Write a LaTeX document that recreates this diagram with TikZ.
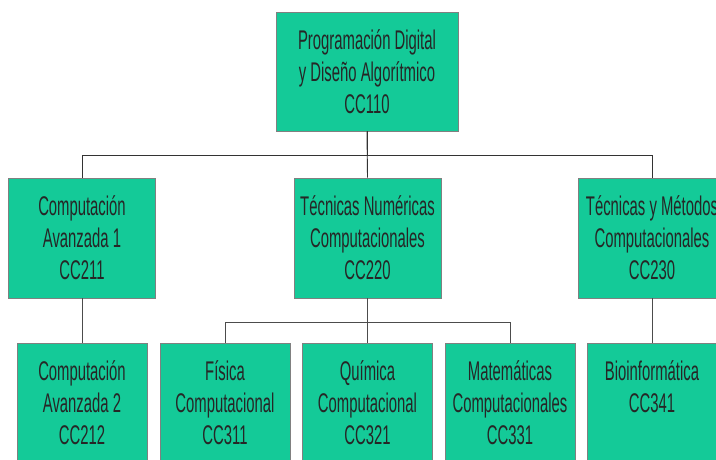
\documentclass[tikz,border=0pt]{standalone}
\usepackage{fontspec}
\usepackage{xcolor}
\usepackage{tikz}
\newfontfamily\coursefont{Liberation Sans}[FakeStretch=0.55]
\definecolor{coursegreen}{RGB}{20,202,152}

\begin{document}
\begin{tikzpicture}[x=1pt, y=-1pt, line width=0.9pt,
    course/.style = {draw=gray, fill=coursegreen, text=black!85, align=center, inner sep=0pt,
        font={\coursefont\fontsize{27}{32}\selectfont}, minimum height=120pt},
    upper/.style = {course, minimum width=147pt},
    lower/.style = {course, minimum width=130pt}]
    \useasboundingbox (0,0) rectangle (716,459);
    \node[course, minimum width=182pt, minimum height=119pt] (110) at (367,71.5) {Programación Digital\\y Diseño Algorítmico\\CC110};
    \node[upper] (211) at (82,238) {Computación\\Avanzada 1\\CC211};
    \node[upper] (220) at (367.5,238) {Técnicas Numéricas\\Computacionales\\CC220};
    \node[upper] (230) at (652,238) {Técnicas y Métodos\\Computacionales\\CC230};
    \node[lower] (212) at (82,403) {Computación\\Avanzada 2\\CC212};
    \node[lower] (311) at (225,403) {Física\\Computacional\\CC311};
    \node[lower] (321) at (367.5,403) {Química\\Computacional\\CC321};
    \node[lower] (331) at (510,403) {Matemáticas\\Computacionales\\CC331};
    \node[lower] (341) at (652,403) {Bioinformática\\CC341\\\mbox{}};
    \draw[black!80] (110.south) -- ++(0,24) -| (211.north);
    \draw[black!80] (110.south) -- ++(0,24) -| (230.north);
    \draw[black!80] (110.south) -- (220.north);
    \draw[black!70] (211.south) -- (212.north);
    \draw[black!70] (220.south) -- ++(0,24) -| (311.north);
    \draw[black!70] (220.south) -- ++(0,24) -| (331.north);
    \draw[black!70] (220.south) -- (321.north);
    \draw[black!70] (230.south) -- (341.north);
\end{tikzpicture}
\end{document}
